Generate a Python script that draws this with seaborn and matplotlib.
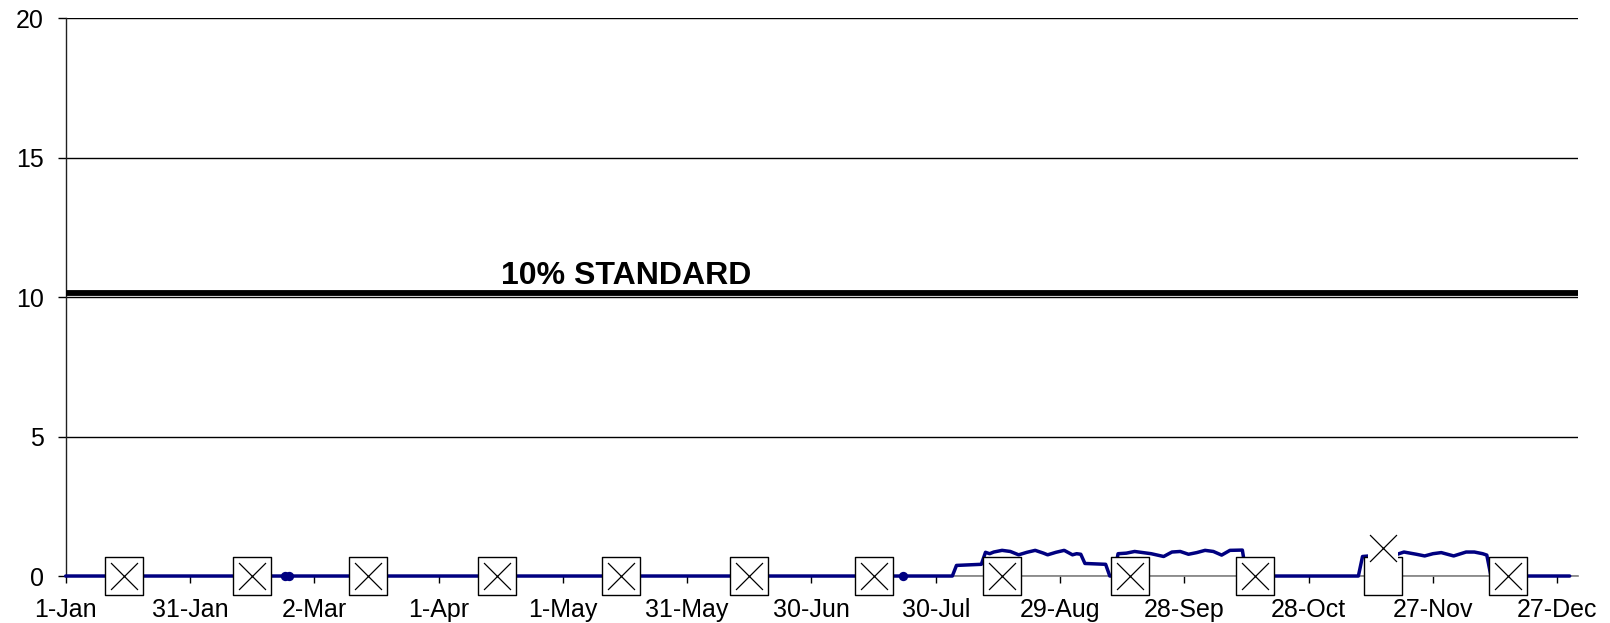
import pandas as pd
import matplotlib
matplotlib.use("Agg")
import matplotlib.pyplot as plt
import matplotlib.dates as mdates
import seaborn as sns

# daily concentration trace (breakpoints)
conc_dates = ["2005-01-01", "2005-08-03", "2005-08-04", "2005-08-10", "2005-08-11",
              "2005-08-12", "2005-08-13", "2005-08-15", "2005-08-17", "2005-08-19",
              "2005-08-21", "2005-08-23", "2005-08-25", "2005-08-26", "2005-08-28",
              "2005-08-30", "2005-09-01", "2005-09-02", "2005-09-03", "2005-09-04",
              "2005-09-09", "2005-09-10", "2005-09-11", "2005-09-12", "2005-09-14",
              "2005-09-16", "2005-09-20", "2005-09-23", "2005-09-25", "2005-09-27",
              "2005-09-29", "2005-10-01", "2005-10-03", "2005-10-05", "2005-10-07",
              "2005-10-09", "2005-10-12", "2005-10-13", "2005-11-09", "2005-11-10",
              "2005-11-14", "2005-11-18", "2005-11-20", "2005-11-23", "2005-11-25",
              "2005-11-27", "2005-11-29", "2005-12-02", "2005-12-05", "2005-12-07",
              "2005-12-09", "2005-12-10", "2005-12-11", "2005-12-30"]
conc_values = [0, 0, 0.38, 0.42, 0.85,
               0.80, 0.86, 0.92, 0.88, 0.76,
               0.85, 0.92, 0.82, 0.76, 0.85,
               0.92, 0.76, 0.80, 0.78, 0.45,
               0.42, 0, 0, 0.80, 0.82,
               0.88, 0.80, 0.70, 0.86, 0.88,
               0.78, 0.84, 0.92, 0.88, 0.75,
               0.92, 0.93, 0, 0, 0.70,
               0.75, 0.76, 0.86, 0.78, 0.72,
               0.80, 0.84, 0.72, 0.86, 0.86,
               0.80, 0.75, 0, 0]

# isolated single readings
dot_dates = ["2005-02-23", "2005-02-24", "2005-07-22"]
dot_values = [0, 0, 0]

# monthly sampling events
sample_dates = ["2005-01-15", "2005-02-15", "2005-03-15", "2005-04-15", "2005-05-15",
                "2005-06-15", "2005-07-15", "2005-08-15", "2005-09-15", "2005-10-15",
                "2005-11-15", "2005-12-15"]
sample_box = [0, 0, 0, 0, 0, 0, 0, 0, 0, 0, 0, 0]
sample_values = [0, 0, 0, 0, 0, 0, 0, 0, 0, 0, 1.0, 0]

standard_value = 10.15
standard_label = "10% STANDARD"
y_ticks = [0, 5, 10, 15, 20]

conc = pd.DataFrame({"date": pd.to_datetime(conc_dates), "value": conc_values})
dots = pd.DataFrame({"date": pd.to_datetime(dot_dates), "value": dot_values})
samples = pd.DataFrame({"date": pd.to_datetime(sample_dates), "box": sample_box,
                        "value": sample_values})
raised = samples[samples["value"] != 0]

sns.set_theme(style="white")
plt.rcParams['font.family'] = ['Liberation Sans', 'DejaVu Sans']

fig = plt.figure(figsize=(16.1, 6.23), dpi=100)
ax = fig.add_axes([0.0408, 0.0754, 0.9393, 0.8957])

ax.axhline(standard_value, color="black", lw=4.2, zorder=3)
ax.text(pd.Timestamp("2005-04-16"), 10.45, standard_label, fontsize=23,
        fontweight="bold", color="black", va="baseline", ha="left", zorder=6)

sns.lineplot(data=conc, x="date", y="value", color="#000080", lw=2.5, ax=ax,
             zorder=3, clip_on=False)
sns.scatterplot(data=dots, x="date", y="value", color="#000080", marker="o",
                s=45, linewidth=0, ax=ax, zorder=3, clip_on=False)

# sampling boxes, then the X for each sample result
sns.scatterplot(data=samples, x="date", y="box", marker="s", s=27.4 ** 2,
                color="white", edgecolor="black", linewidth=1.0, ax=ax,
                zorder=4, clip_on=False)
sns.scatterplot(data=raised, x="date", y="value", marker="s", s=21 ** 2,
                color="white", linewidth=0, ax=ax, zorder=4.5, clip_on=False)
sns.scatterplot(data=samples, x="date", y="value", marker="x", s=19.4 ** 2,
                color="black", linewidth=0.9, ax=ax, zorder=5, clip_on=False)

ax.set_xlim(pd.Timestamp("2005-01-01"), pd.Timestamp("2006-01-01"))
ax.set_ylim(0, 20)
ax.set_yticks(y_ticks)
ax.set_xticks(pd.date_range("2005-01-01", periods=13, freq="30D"))
ax.xaxis.set_major_formatter(mdates.DateFormatter("%-d-%b"))

ax.grid(axis="y", color="black", lw=1.0)
ax.set_axisbelow(True)
ax.set_xlabel("")
ax.set_ylabel("")

for side in ["top", "right"]:
    ax.spines[side].set_visible(False)
ax.spines["left"].set_color("#202020")
ax.spines["left"].set_linewidth(1.0)
ax.spines["bottom"].set_color("#808080")
ax.spines["bottom"].set_linewidth(1.2)

ax.tick_params(axis="y", which="major", direction="out", length=5.8, width=1.0,
               color="black", labelcolor="black", labelsize=18, pad=10, left=True)
ax.tick_params(axis="x", which="major", direction="out", length=5, width=1.0,
               color="black", labelcolor="black", labelsize=18, pad=11, bottom=True)

fig.savefig("out.png", dpi=100)
